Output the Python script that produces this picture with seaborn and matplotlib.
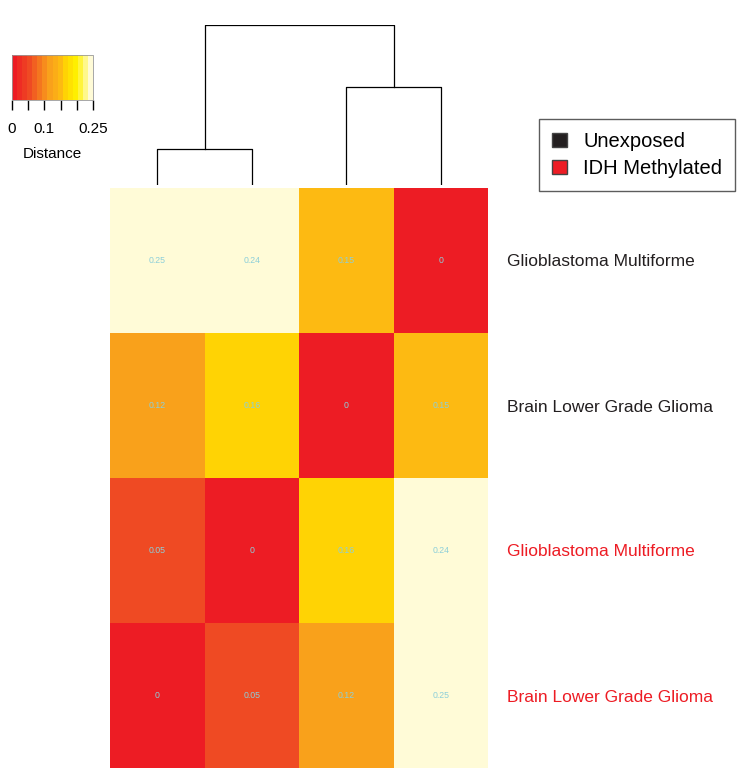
import numpy as np
import pandas as pd
import matplotlib
matplotlib.use("Agg")
import matplotlib.pyplot as plt
import seaborn as sns
from matplotlib.colors import LinearSegmentedColormap, ListedColormap
from matplotlib.patches import Patch

# --- data ---
row_labels = ["Glioblastoma Multiforme", "Brain Lower Grade Glioma",
              "Glioblastoma Multiforme", "Brain Lower Grade Glioma"]
row_groups = ["Unexposed", "Unexposed", "IDH Methylated", "IDH Methylated"]
col_labels = ["LGG IDH", "GBM IDH", "LGG Unexposed", "GBM Unexposed"]
distance = [
    [0.25, 0.24, 0.15, 0.00],
    [0.12, 0.16, 0.00, 0.15],
    [0.05, 0.00, 0.16, 0.24],
    [0.00, 0.05, 0.12, 0.25],
]
# column dendrogram merge heights: left pair, right pair, root
merge_heights = [0.05, 0.15, 0.25]
group_colors = {"Unexposed": "#231F20", "IDH Methylated": "#ED1C24"}
cbar_ticks = [0, 0.05, 0.1, 0.15, 0.2, 0.25]
cbar_ticklabels = ["0", "", "0.1", "", "", "0.25"]

df = pd.DataFrame(distance, index=row_labels, columns=col_labels)

# banded red -> yellow -> cream palette
n_bins = 16
base = LinearSegmentedColormap.from_list("dist", [
    (0.0, "#ED1C24"), (0.03, "#ED1C24"), (0.219, "#EF4A23"),
    (0.469, "#F9A11B"), (0.594, "#FDB913"), (0.656, "#FFD204"),
    (0.8, "#FFF200"), (0.97, "#FFFBD7"), (1.0, "#FFFBD7")])
cmap = ListedColormap(base((np.arange(n_bins) + 0.5) / n_bins))

plt.rcParams["font.family"] = ["Liberation Sans", "DejaVu Sans"]
fig = plt.figure(figsize=(7.52, 7.8), dpi=100)

ax = fig.add_axes([110 / 752, 1 - 768 / 780, 378 / 752, 580 / 780])
cax = fig.add_axes([12 / 752, 1 - 100 / 780, 81 / 752, 45 / 780])
dax = fig.add_axes([110 / 752, 1 - 185 / 780, 378 / 752, 160 / 780], sharex=ax)

sns.heatmap(df, ax=ax, cmap=cmap, vmin=0, vmax=0.25, annot=True, fmt="g",
            annot_kws={"fontsize": 6.3, "color": "#8DCFD9"},
            cbar_ax=cax, cbar_kws={"orientation": "horizontal", "ticks": cbar_ticks},
            xticklabels=False, yticklabels=row_labels)

ax.yaxis.tick_right()
ax.tick_params(axis="y", length=0, pad=14, labelsize=12.5, rotation=0)
for lab, grp in zip(ax.get_yticklabels(), row_groups):
    lab.set_color(group_colors[grp])
ax.set_xlabel("")
ax.set_ylabel("")

# colorbar styling
cbar = ax.collections[0].colorbar
cbar.set_ticklabels(cbar_ticklabels)
cbar.outline.set_edgecolor("#999999")
cbar.outline.set_linewidth(0.6)
cax.tick_params(axis="x", length=7, width=1, labelsize=11, pad=9)
cax.set_xlabel("Distance", fontsize=11, labelpad=8)

# column dendrogram
base_y = -0.008
pos = [0.5 + i for i in range(len(col_labels))]
l_mid = (pos[0] + pos[1]) / 2
r_mid = (pos[2] + pos[3]) / 2
lw = 0.9
for (a, b), h in zip([(pos[0], pos[1]), (pos[2], pos[3])], merge_heights[:2]):
    dax.plot([a, a, b, b], [base_y, h, h, base_y], color="black", lw=lw)
dax.plot([l_mid, l_mid, r_mid, r_mid],
         [merge_heights[0], merge_heights[2], merge_heights[2], merge_heights[1]],
         color="black", lw=lw)
dax.set_ylim(base_y, merge_heights[2])
dax.axis("off")

# group legend
handles = [Patch(facecolor=c, edgecolor="#444444", label=g) for g, c in group_colors.items()]
fig.legend(handles=handles, loc="upper left", bbox_to_anchor=(539 / 752, 1 - 119 / 780),
           fontsize=14.5, frameon=True, fancybox=False, edgecolor="#333333",
           handlelength=0.75, handleheight=0.75, handletextpad=0.8, borderpad=0.65,
           labelspacing=0.4, borderaxespad=0)

fig.savefig("out.png", dpi=100)
